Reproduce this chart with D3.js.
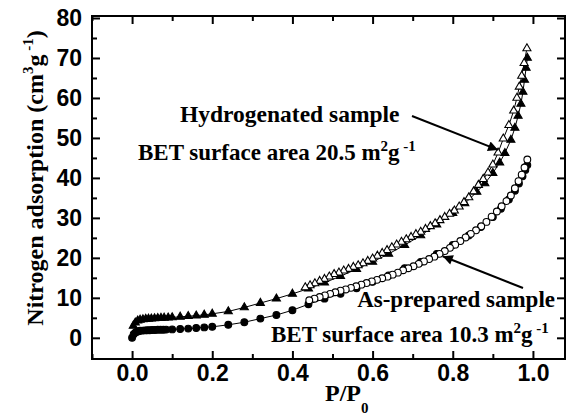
<!DOCTYPE html>
<html>
<head>
  <script src="https://cdn.jsdelivr.net/npm/d3@7"></script>
  <style>
    body { margin: 0; background: #fff; }
    svg { font-family: "Liberation Serif", "Times New Roman", serif; font-weight: bold; }
  </style>
</head>
<body>
<svg width="574" height="418"></svg>
<script>
  // hydrogenated sample, adsorption branch (filled triangles)
  const hydroAdsP = [0.003, 0.008, 0.014, 0.02, 0.027, 0.034, 0.041, 0.048, 0.056, 0.064, 0.072, 0.08, 0.09, 0.1, 0.12, 0.14, 0.16, 0.18, 0.2, 0.24, 0.28, 0.32, 0.36, 0.4, 0.44, 0.48, 0.52, 0.56, 0.6, 0.64, 0.68, 0.72, 0.76, 0.8, 0.83, 0.86, 0.88, 0.9, 0.917, 0.93, 0.945, 0.955, 0.963, 0.97, 0.975, 0.979, 0.983, 0.986];
  const hydroAdsV = [3.0, 3.8, 4.3, 4.5, 4.6, 4.7, 4.75, 4.8, 4.85, 4.9, 4.95, 5.0, 5.05, 5.1, 5.25, 5.4, 5.55, 5.75, 6.0, 6.6, 7.6, 8.7, 9.8, 11.0, 12.3, 13.8, 15.4, 17.2, 19.0, 21.0, 23.2, 25.6, 28.3, 31.2, 33.6, 36.5, 38.6, 41.2, 43.8, 46.2, 49.5, 52.5, 55.5, 58.5, 61.5, 64.5, 67.5, 70];

  // hydrogenated sample, desorption branch (open triangles)
  const hydroDesP = [0.985, 0.978, 0.972, 0.966, 0.96, 0.952, 0.94, 0.926, 0.913, 0.9, 0.888, 0.876, 0.864, 0.852, 0.84, 0.828, 0.816, 0.804, 0.792, 0.78, 0.768, 0.756, 0.744, 0.732, 0.72, 0.708, 0.696, 0.684, 0.672, 0.66, 0.648, 0.636, 0.624, 0.612, 0.6, 0.588, 0.576, 0.564, 0.552, 0.54, 0.528, 0.516, 0.504, 0.492, 0.48, 0.468, 0.456, 0.444, 0.432];
  const hydroDesV = [72.4, 68.7, 65.5, 62.8, 60, 56.8, 53.2, 49.8, 46.3, 43.3, 41.3, 39.7, 38.2, 36.6, 35.1, 33.9, 32.8, 31.8, 31.0, 30.2, 29.4, 28.6, 27.9, 27.2, 26.5, 25.9, 25.2, 24.6, 24.0, 23.3, 22.6, 21.9, 21.2, 20.5, 19.8, 19.2, 18.6, 18.1, 17.7, 17.2, 16.8, 16.3, 15.9, 15.3, 14.7, 14.2, 13.6, 13.1, 12.6];

  // as-prepared sample, adsorption branch (filled circles)
  const asAdsP = [0.0, 0.004, 0.008, 0.012, 0.016, 0.02, 0.026, 0.032, 0.038, 0.044, 0.05, 0.057, 0.064, 0.071, 0.078, 0.085, 0.1, 0.12, 0.14, 0.16, 0.18, 0.2, 0.24, 0.28, 0.32, 0.36, 0.4, 0.44, 0.48, 0.52, 0.56, 0.6, 0.64, 0.68, 0.72, 0.76, 0.8, 0.84, 0.87, 0.9, 0.92, 0.94, 0.955, 0.965, 0.974, 0.981, 0.986];
  const asAdsV = [0, 0.9, 1.3, 1.5, 1.65, 1.75, 1.8, 1.85, 1.9, 1.9, 1.95, 1.95, 2.0, 2.0, 2.0, 2.05, 2.1, 2.2, 2.3, 2.45, 2.6, 2.75, 3.25, 3.9, 4.8, 5.7, 6.9, 8.4, 9.8, 11.0, 12.4, 14.0, 15.6, 17.4, 19.0, 21.0, 23.2, 25.6, 27.7, 30.2, 32.3, 34.6, 36.8, 38.6, 40.4, 42.0, 43.2];

  // as-prepared sample, desorption branch (open circles)
  const asDesP = [0.986, 0.979, 0.972, 0.964, 0.955, 0.945, 0.934, 0.922, 0.91, 0.897, 0.884, 0.871, 0.858, 0.845, 0.832, 0.819, 0.806, 0.793, 0.78, 0.767, 0.754, 0.741, 0.728, 0.715, 0.702, 0.689, 0.676, 0.663, 0.65, 0.637, 0.624, 0.611, 0.598, 0.585, 0.572, 0.559, 0.546, 0.533, 0.52, 0.507, 0.494, 0.481, 0.468, 0.455, 0.442];
  const asDesV = [44.6, 42.6, 40.8, 39.2, 37.4, 35.6, 34.2, 32.9, 31.6, 30.3, 29.0, 27.9, 26.9, 26.0, 25.1, 24.2, 23.3, 22.5, 21.7, 21.0, 20.3, 19.7, 19.1, 18.5, 17.9, 17.4, 16.9, 16.3, 15.8, 15.3, 14.9, 14.5, 14.1, 13.7, 13.3, 12.9, 12.5, 12.1, 11.8, 11.4, 11.0, 10.6, 10.2, 9.8, 9.4];

  const xTicks = [0.0, 0.2, 0.4, 0.6, 0.8, 1.0];
  const yTicks = [0, 10, 20, 30, 40, 50, 60, 70, 80];

  const marginLeft = 92, marginTop = 16;
  const width = 473, height = 343;

  const svg = d3.select('svg');
  const chart = svg.append('g')
    .attr('transform', `translate(${marginLeft}, ${marginTop})`);

  const x = d3.scaleLinear().domain([-0.1, 1.08]).range([0, width]);
  const y = d3.scaleLinear().domain([-5.3, 80.5]).range([height, 0]);

  // axes: major + minor ticks, all pointing inward, mirrored on top and right
  const minorX = [-0.1, 0.1, 0.3, 0.5, 0.7, 0.9];
  const minorY = [5, 15, 25, 35, 45, 55, 65, 75];

  function styleAxis(g) {
    g.select('.domain').remove();
    g.selectAll('line').attr('stroke', '#000').attr('stroke-width', 2);
    g.selectAll('text').attr('font-size', 23).attr('fill', '#000');
  }

  chart.append('g')
    .attr('transform', `translate(0, ${height})`)
    .call(d3.axisBottom(x).tickValues(xTicks).tickSize(-8).tickPadding(6).tickFormat(d3.format('.1f')))
    .call(styleAxis);
  chart.append('g')
    .attr('transform', `translate(0, ${height})`)
    .call(d3.axisBottom(x).tickValues(minorX).tickSize(-5).tickFormat(''))
    .call(styleAxis);
  chart.append('g')
    .call(d3.axisTop(x).tickValues(xTicks).tickSize(-8).tickFormat(''))
    .call(styleAxis);
  chart.append('g')
    .call(d3.axisTop(x).tickValues(minorX).tickSize(-5).tickFormat(''))
    .call(styleAxis);

  chart.append('g')
    .call(d3.axisLeft(y).tickValues(yTicks).tickSize(-8).tickPadding(10).tickFormat(d3.format('d')))
    .call(styleAxis);
  chart.append('g')
    .call(d3.axisLeft(y).tickValues(minorY).tickSize(-5).tickFormat(''))
    .call(styleAxis);
  chart.append('g')
    .attr('transform', `translate(${width}, 0)`)
    .call(d3.axisRight(y).tickValues(yTicks).tickSize(-8).tickFormat(''))
    .call(styleAxis);
  chart.append('g')
    .attr('transform', `translate(${width}, 0)`)
    .call(d3.axisRight(y).tickValues(minorY).tickSize(-5).tickFormat(''))
    .call(styleAxis);

  chart.append('rect')
    .attr('width', width)
    .attr('height', height)
    .attr('fill', 'none')
    .attr('stroke', '#000')
    .attr('stroke-width', 2);

  // curves
  const series = [
    { p: hydroAdsP, v: hydroAdsV, shape: 'tri', open: false },
    { p: asAdsP, v: asAdsV, shape: 'circ', open: false },
    { p: hydroDesP, v: hydroDesV, shape: 'tri', open: true },
    { p: asDesP, v: asDesV, shape: 'circ', open: true }
  ];

  const line = d3.line().x(d => x(d[0])).y(d => y(d[1]));
  series.forEach(s => {
    const pts = s.p.map((p, i) => [p, s.v[i]]);
    chart.append('path')
      .attr('d', line(pts))
      .attr('fill', 'none')
      .attr('stroke', '#000')
      .attr('stroke-width', 1);
  });

  const tri = d3.symbol(d3.symbolTriangle, 28);
  series.forEach(s => {
    const pts = s.p.map((p, i) => [p, s.v[i]]);
    const g = chart.append('g');
    if (s.shape === 'tri') {
      g.selectAll('path').data(pts).enter().append('path')
        .attr('d', tri)
        .attr('transform', d => `translate(${x(d[0])}, ${y(d[1])})`)
        .attr('fill', s.open ? '#fff' : '#000')
        .attr('stroke', '#000')
        .attr('stroke-width', 1.1);
    } else {
      g.selectAll('circle').data(pts).enter().append('circle')
        .attr('cx', d => x(d[0]))
        .attr('cy', d => y(d[1]))
        .attr('r', 3.4)
        .attr('fill', s.open ? '#fff' : '#000')
        .attr('stroke', '#000')
        .attr('stroke-width', 1.1);
    }
  });

  // annotations
  function supText(parent, parts, attrs) {
    const t = parent.append('text');
    Object.entries(attrs).forEach(([k, v]) => t.attr(k, v));
    parts.forEach(([str, sup]) => {
      const ts = t.append('tspan').text(str);
      if (sup) ts.attr('font-size', 15).attr('dy', -9);
      else ts.attr('dy', sup === false ? 9 : 0);
    });
    return t;
  }

  svg.append('text')
    .attr('x', 180).attr('y', 122)
    .attr('font-size', 23.5)
    .text('Hydrogenated sample');
  supText(svg, [['BET surface area 20.5 m', null], ['2', true], ['g', false], [' -1', true]],
    { x: 138, y: 160, 'font-size': 23 });

  svg.append('text')
    .attr('x', 555).attr('y', 307)
    .attr('font-size', 23)
    .attr('text-anchor', 'end')
    .text('As-prepared sample');
  supText(svg, [['BET surface area 10.3 m', null], ['2', true], ['g', false], [' -1', true]],
    { x: 271, y: 342, 'font-size': 23 });

  // arrows
  svg.append('defs').append('marker')
    .attr('id', 'head')
    .attr('viewBox', '0 0 10 10')
    .attr('refX', 10).attr('refY', 5)
    .attr('markerWidth', 15).attr('markerHeight', 10)
    .attr('markerUnits', 'userSpaceOnUse')
    .attr('orient', 'auto')
    .append('path').attr('d', 'M0,0 L10,5 L0,10 Z').attr('fill', '#000');

  svg.append('line')
    .attr('x1', 412).attr('y1', 116)
    .attr('x2', x(0.913) + marginLeft).attr('y2', y(47) + marginTop)
    .attr('stroke', '#000').attr('stroke-width', 2)
    .attr('marker-end', 'url(#head)');
  svg.append('line')
    .attr('x1', 523).attr('y1', 288)
    .attr('x2', x(0.775) + marginLeft).attr('y2', y(20.4) + marginTop)
    .attr('stroke', '#000').attr('stroke-width', 2)
    .attr('marker-end', 'url(#head)');

  // axis titles
  const yl = svg.append('text')
    .attr('transform', 'translate(43, 178) rotate(-90)')
    .attr('text-anchor', 'middle')
    .attr('font-size', 24);
  yl.append('tspan').text('Nitrogen adsorption  (cm');
  yl.append('tspan').text('3').attr('font-size', 15).attr('dy', -10);
  yl.append('tspan').text('g').attr('dy', 10);
  yl.append('tspan').text(' -1').attr('font-size', 15).attr('dy', -10);
  yl.append('tspan').text(')').attr('dy', 10);

  const xl = svg.append('text')
    .attr('x', 325).attr('y', 401)
    .attr('font-size', 24);
  xl.append('tspan').text('P/P');
  xl.append('tspan').text('0').attr('font-size', 15).attr('dy', 12);
</script>
</body>
</html>
